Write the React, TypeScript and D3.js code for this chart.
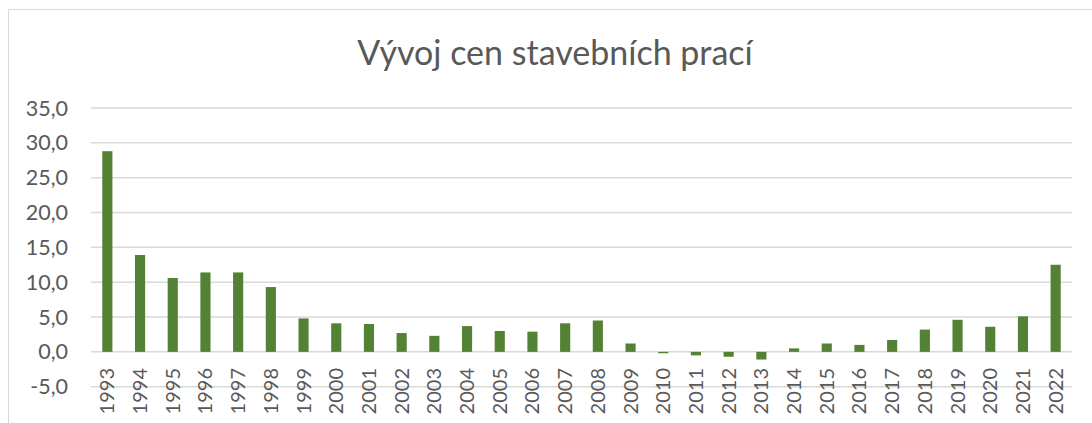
import React from "react";
import * as d3 from "d3";

const years = [
  "1993","1994","1995","1996","1997","1998","1999","2000","2001","2002",
  "2003","2004","2005","2006","2007","2008","2009","2010","2011","2012",
  "2013","2014","2015","2016","2017","2018","2019","2020","2021","2022",
];
const values = [
  28.8, 13.9, 10.6, 11.4, 11.4, 9.3, 4.8, 4.1, 4.0, 2.7,
  2.3, 3.7, 3.0, 2.9, 4.1, 4.5, 1.2, -0.2, -0.5, -0.7,
  -1.1, 0.5, 1.2, 1.0, 1.7, 3.2, 4.6, 3.6, 5.1, 12.5,
];
const yTicks = [-5, 0, 5, 10, 15, 20, 25, 30, 35];
const title = "Vývoj cen stavebních prací";

const W = 1092;
const H = 423;
const FONT = "Lato, 'Open Sans', sans-serif";
const TEXT = "#595959";

export default function App() {
  const x = d3.scaleBand<string>().domain(years).range([91, 1072]).paddingInner(0.69).paddingOuter(0.345);
  const y = d3.scaleLinear().domain([-5, 35]).range([386.7, 108]);
  const fmt = (v: number) => d3.format(".1f")(v).replace(".", ",").replace("−", "-");

  return (
    <svg width={W} height={H} style={{ position: "absolute", left: 0, top: 0, background: "#fff" }}>
      <rect x={8.5} y={9.5} width={W + 20} height={H + 20} fill="#fff" stroke="#d9d9d9" strokeWidth={1} />
      <text x={555} y={65} textAnchor="middle" fontFamily={FONT} fontSize={34} fill={TEXT}>{title}</text>
      {yTicks.map((t) => (
        <g key={t}>
          <line x1={91} x2={1072} y1={y(t)} y2={y(t)} stroke="#d9d9d9" strokeWidth={1.5} />
          <text x={68} y={y(t)} dy="0.35em" textAnchor="end" fontFamily={FONT} fontSize={21.5} fill={TEXT}>{fmt(t)}</text>
        </g>
      ))}
      {years.map((yr, i) => {
        const v = values[i];
        const y0 = y(0);
        const y1 = y(v);
        return (
          <rect key={yr} x={x(yr)!} width={x.bandwidth()} y={Math.min(y0, y1)} height={Math.max(1, Math.abs(y1 - y0))} fill="#548235" />
        );
      })}
      {years.map((yr) => {
        const cx = x(yr)! + x.bandwidth() / 2;
        return (
          <text key={yr} transform={`translate(${cx},368) rotate(-90)`} textAnchor="end" dy="0.35em" fontFamily={FONT} fontSize={20} fill={TEXT}>{yr}</text>
        );
      })}
    </svg>
  );
}
